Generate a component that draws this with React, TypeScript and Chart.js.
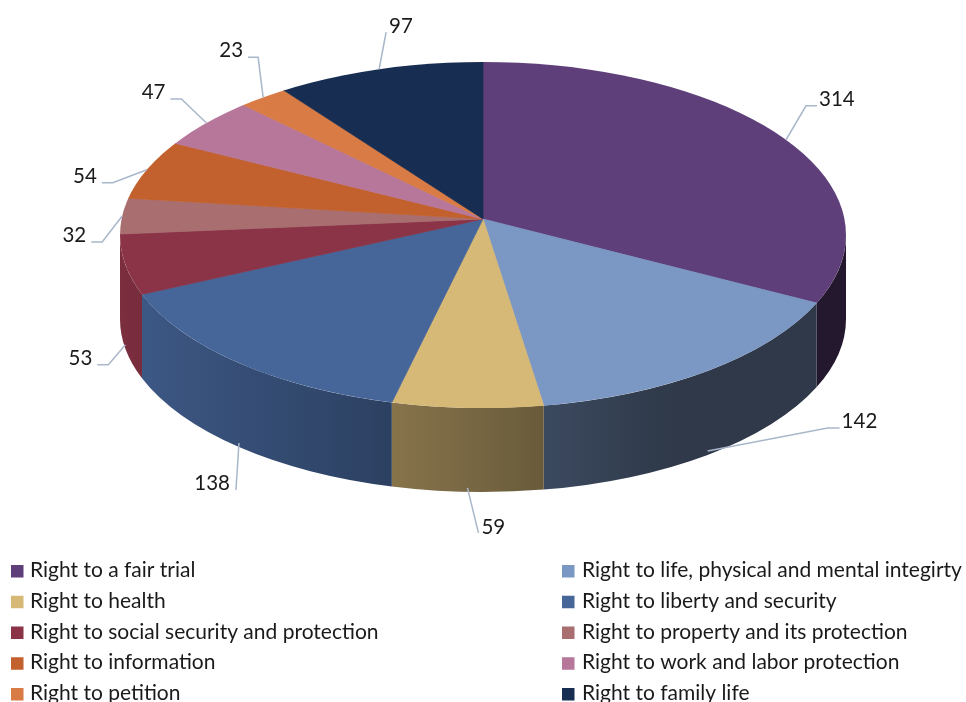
import { useEffect, useRef } from "react";
import { Chart, registerables } from "chart.js";

Chart.register(...registerables);

const categories = [
  "Right to a fair trial",
  "Right to life, physical and mental integirty",
  "Right to health",
  "Right to liberty and security",
  "Right to social security and protection",
  "Right to property and its protection",
  "Right to information",
  "Right to work and labor protection",
  "Right to petition",
  "Right to family life",
];
const values = [314, 142, 59, 138, 53, 32, 54, 47, 23, 97];
const sliceColors = [
  "#5f3f7a",
  "#7b97c3",
  "#d6b877",
  "#46669a",
  "#8b3447",
  "#a86e70",
  "#c2612d",
  "#b7779b",
  "#d97b45",
  "#172d52",
];

// layout of the 3D projection (top face ellipse, apex seen in perspective, side depth)
const CX = 483;
const CY = 235;
const RX = 363;
const RY = 173;
const APEX_Y = 219;
const DEPTH = 84;
const K = RY / RX;
const PIE_RADIUS = 400;

// leader line layout (elbow offset from the slice's rim anchor)
const labelLayout = [
  { dx: 20, dy: -34, tail: 11, side: 1 },
  { dx: 120, dy: -23, tail: 12, side: 1 },
  { dx: 11, dy: 45, tail: 0, side: 1 },
  { dx: -3, dy: 47, tail: 0, side: -1 },
  { dx: -17, dy: 20, tail: -11, side: -1 },
  { dx: -20, dy: 26, tail: -11, side: -1 },
  { dx: -34, dy: 13, tail: -11, side: -1 },
  { dx: -25, dy: -24, tail: -11, side: -1 },
  { dx: -5, dy: -40, tail: -10, side: -1 },
  { dx: 7, dy: -37, tail: 0, side: 1 },
];

const FONT = "Lato, 'Liberation Sans', sans-serif";

function hexToRgb(hex: string) {
  const h = hex.replace("#", "");
  return [parseInt(h.slice(0, 2), 16), parseInt(h.slice(2, 4), 16), parseInt(h.slice(4, 6), 16)];
}
function shade(hex: string, f: number) {
  const [r, g, b] = hexToRgb(hex);
  return `rgb(${Math.round(r * f)},${Math.round(g * f)},${Math.round(b * f)})`;
}
function wallFactor(c: number) {
  return Math.max(0.38, Math.min(0.88, 0.88 - 0.333 * (c + 1)));
}

// parameter t on the rim ellipse hit by the slice boundary at angle theta (from the apex)
function rimT(theta: number) {
  const e = (CY - APEX_Y) / RY;
  const sn = Math.sin(theta);
  const cs = Math.cos(theta);
  const s = e * sn + Math.sqrt(e * e * sn * sn - e * e + 1);
  const u = s * cs;
  const v = -e + s * sn;
  let t = Math.atan2(v, u);
  t += 2 * Math.PI * Math.round((theta - t) / (2 * Math.PI));
  return t;
}

const pie3d = {
  id: "pie3d",
  beforeDatasetsDraw(chart: any) {
    const ctx: CanvasRenderingContext2D = chart.ctx;
    const meta = chart.getDatasetMeta(0);
    const arcs = meta.data;
    arcs.forEach((arc: any, i: number) => {
      const a = rimT(arc.startAngle);
      const b = rimT(arc.endAngle);
      const color = sliceColors[i];
      for (const off of [-2 * Math.PI, 0, 2 * Math.PI]) {
        const t1 = Math.max(a, off) - off;
        const t2 = Math.min(b, Math.PI + off) - off;
        if (t2 - t1 <= 0.0001) continue;
        const xL = CX + RX * Math.cos(t2);
        const xR = CX + RX * Math.cos(t1);
        let fill: any;
        if (xR - xL < 1) {
          fill = shade(color, wallFactor(Math.cos((t1 + t2) / 2)));
        } else {
          const g = ctx.createLinearGradient(xL, 0, xR, 0);
          for (let s = 0; s <= 10; s++) {
            const x = xL + ((xR - xL) * s) / 10;
            g.addColorStop(s / 10, shade(color, wallFactor((x - CX) / RX)));
          }
          fill = g;
        }
        ctx.save();
        ctx.beginPath();
        ctx.ellipse(CX, CY, RX, RY, 0, t1, t2, false);
        ctx.ellipse(CX, CY + DEPTH, RX, RY, 0, t2, t1, true);
        ctx.closePath();
        ctx.fillStyle = fill;
        ctx.fill();
        ctx.restore();
      }
    });
    const a0 = arcs[0];
    ctx.save();
    ctx.beginPath();
    ctx.ellipse(CX, CY, RX, RY, 0, 0, Math.PI * 2);
    ctx.clip();
    ctx.translate(CX, APEX_Y);
    ctx.scale(1, K);
    ctx.translate(-a0.x, -a0.y);
  },
  afterDatasetsDraw(chart: any) {
    chart.ctx.restore();
  },
};

const labelsPlugin = {
  id: "pieLabels",
  afterDraw(chart: any) {
    const ctx: CanvasRenderingContext2D = chart.ctx;
    const arcs = chart.getDatasetMeta(0).data;
    ctx.save();
    ctx.font = `20.5px ${FONT}`;
    ctx.fillStyle = "#1a1a1a";
    ctx.strokeStyle = "#a9b7ca";
    ctx.lineWidth = 1.5;
    ctx.textBaseline = "alphabetic";
    arcs.forEach((arc: any, i: number) => {
      const m = (rimT(arc.startAngle) + rimT(arc.endAngle)) / 2;
      const s = Math.sin(m);
      const ax = CX + RX * Math.cos(m);
      let ay = CY + RY * s;
      if (s > 0.05) ay += DEPTH - 4;
      const L = labelLayout[i];
      const ex = ax + L.dx;
      const ey = ay + L.dy;
      ctx.beginPath();
      ctx.moveTo(ax, ay);
      ctx.lineTo(ex, ey);
      if (L.tail !== 0) ctx.lineTo(ex + L.tail, ey);
      ctx.stroke();
      const txt = String(values[i]);
      if (L.tail > 0) {
        ctx.textAlign = "left";
        ctx.fillText(txt, ex + L.tail + 2, ey);
      } else if (L.tail < 0) {
        ctx.textAlign = "right";
        ctx.fillText(txt, ex + L.tail - 5, ey);
      } else if (L.side > 0) {
        ctx.textAlign = "left";
        ctx.fillText(txt, ex + 3, ey + 1);
      } else {
        ctx.textAlign = "right";
        ctx.fillText(txt, ex - 6, ey);
      }
    });
    ctx.restore();
  },
};

const legendPlugin = {
  id: "gridLegend",
  afterDraw(chart: any) {
    const ctx: CanvasRenderingContext2D = chart.ctx;
    ctx.save();
    ctx.font = `21px ${FONT}`;
    ctx.textAlign = "left";
    ctx.textBaseline = "alphabetic";
    categories.forEach((name, i) => {
      const col = i % 2;
      const row = Math.floor(i / 2);
      const baseline = 577 + row * 30.75;
      const sx = col === 0 ? 11 : 562;
      const tx = col === 0 ? 30 : 582;
      ctx.fillStyle = sliceColors[i];
      ctx.fillRect(sx, baseline - 12, 12.5, 12.5);
      ctx.fillStyle = "#1a1a1a";
      ctx.fillText(name, tx, baseline);
    });
    ctx.restore();
  },
};

export default function App() {
  const ref = useRef<HTMLCanvasElement | null>(null);
  useEffect(() => {
    if (!ref.current) return;
    const chart = new Chart(ref.current, {
      type: "pie",
      data: {
        labels: categories,
        datasets: [
          {
            data: values,
            backgroundColor: sliceColors,
            borderColor: sliceColors,
            borderWidth: 1,
            radius: PIE_RADIUS,
            clip: false,
            hoverOffset: 0,
          } as any,
        ],
      },
      options: {
        responsive: false,
        animation: false,
        events: [],
        layout: { padding: 0 },
        plugins: {
          legend: { display: false },
          tooltip: { enabled: false },
        },
      },
      plugins: [pie3d, labelsPlugin, legendPlugin],
    });
    return () => chart.destroy();
  }, []);
  return (
    <div style={{ position: "fixed", left: 0, top: 0, width: 966, height: 702, background: "#fff" }}>
      <canvas ref={ref} width={966} height={702} style={{ display: "block" }} />
    </div>
  );
}
